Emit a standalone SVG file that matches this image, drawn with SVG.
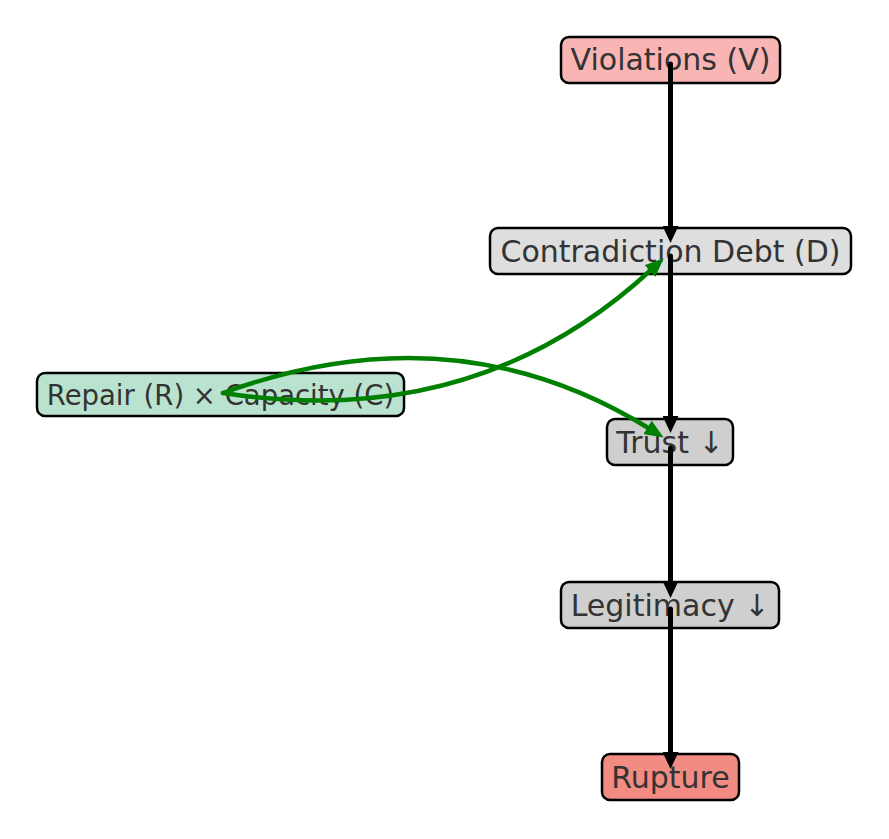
<svg xmlns="http://www.w3.org/2000/svg" width="889" height="839" viewBox="0 0 889 839">
<style>
.box{stroke:#000;stroke-width:2.5}
.lbl{font-family:"DejaVu Sans",sans-serif;font-size:30px;fill:#333;text-anchor:middle}
.blk{stroke:#000;stroke-width:5;fill:none;stroke-linecap:round}
.grn{stroke:#008000;stroke-width:4.5;fill:none;stroke-linecap:round}
</style>
<defs>
<marker id="ab" markerUnits="userSpaceOnUse" markerWidth="18" markerHeight="16" refX="2" refY="8" orient="auto">
<path d="M0,0 L17,8 L0,16 z" fill="#000"/>
</marker>
<marker id="ag" markerUnits="userSpaceOnUse" markerWidth="20" markerHeight="16" refX="3" refY="8" orient="auto">
<path d="M0,0 L19,8 L0,16 z" fill="#008000"/>
</marker>
</defs>
<rect width="889" height="839" fill="#fff"/>
<g id="violations"><rect class="box" x="561" y="37" width="219" height="46" rx="8" fill="#f9b4b4"/><text class="lbl" x="670.5" y="70">Violations (V)</text></g>
<g id="debt"><rect class="box" x="490" y="228" width="361" height="46" rx="8" fill="#dedede"/><text class="lbl" x="670.5" y="262">Contradiction Debt (D)</text></g>
<g id="repair"><rect class="box" x="37" y="373" width="367" height="43" rx="8" fill="#b9e3cf"/><text class="lbl" x="220.5" y="405" style="font-size:27.5px">Repair (R) × Capacity (C)</text></g>
<g id="trust"><rect class="box" x="607" y="419" width="126" height="46" rx="8" fill="#cfcfcf"/><text class="lbl" x="670" y="453">Trust ↓</text></g>
<g id="legitimacy"><rect class="box" x="561" y="582" width="218" height="46" rx="8" fill="#cfcfcf"/><text class="lbl" x="670" y="616">Legitimacy ↓</text></g>
<g id="rupture"><rect class="box" x="602" y="754" width="137" height="46" rx="8" fill="#f28b82"/><text class="lbl" x="670.5" y="788">Rupture</text></g>
<g id="connectors">
<path class="blk" d="M670.5,64 L670.5,228" marker-end="url(#ab)"/>
<path class="blk" d="M670.5,256 L670.5,418" marker-end="url(#ab)"/>
<path class="blk" d="M670.5,448 L670.5,583" marker-end="url(#ab)"/>
<path class="blk" d="M670.5,609 L670.5,754" marker-end="url(#ab)"/>
<path class="grn" d="M223,393 Q476,432 652,269" marker-end="url(#ag)"/>
<path class="grn" d="M223,393 Q455,308 650,429" marker-end="url(#ag)"/>
</g>
</svg>
